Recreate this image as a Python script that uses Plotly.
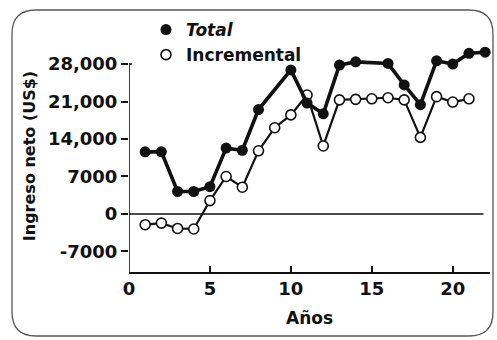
import plotly.graph_objects as go

# ---- data ----
total_years = [1, 2, 3, 4, 5, 6, 7, 8, 10, 11, 12, 13, 14, 16, 17, 18, 19, 20, 21, 22]
total_values = [11600, 11600, 4200, 4200, 5100, 12300, 11900, 19500, 26900, 20700,
                18700, 27800, 28400, 28100, 24100, 20400, 28600, 28000, 30000, 30200]

incr_years = list(range(1, 22))
incr_values = [-2000, -1700, -2700, -2800, 2500, 7000, 5000, 11800, 16100, 18500,
               22200, 12700, 21300, 21400, 21500, 21700, 21300, 14300, 21900, 20900, 21500]

y_tickvals = [-7000, 0, 7000, 14000, 21000, 28000]
y_ticktext = ["-7000", "0", "7000", "14,000", "21,000", "28,000"]
x_tickvals = [0, 5, 10, 15, 20]
x_ticktext = ["0", "5", "10", "15", "20"]

FONT = "DejaVu Sans"
INK = "#111111"
Y_MIN, Y_MAX = -10830, 32480
X_MIN, X_MAX = 0, 22.3

fig = go.Figure()

fig.add_trace(go.Scatter(
    x=incr_years, y=incr_values, mode="lines+markers", showlegend=False,
    line=dict(color=INK, width=2.2),
    marker=dict(symbol="circle", size=10, color="white", line=dict(color=INK, width=1.6)),
    cliponaxis=False,
))
fig.add_trace(go.Scatter(
    x=total_years, y=total_values, mode="lines+markers", showlegend=False,
    line=dict(color=INK, width=3.6),
    marker=dict(symbol="circle", size=11, color=INK),
    cliponaxis=False,
))
# legend entries (markers only)
fig.add_trace(go.Scatter(x=[None], y=[None], mode="markers", name="<i>Total</i>",
                         marker=dict(symbol="circle", size=11, color=INK)))
fig.add_trace(go.Scatter(x=[None], y=[None], mode="markers", name="Incremental",
                         marker=dict(symbol="circle", size=10, color="white",
                                     line=dict(color=INK, width=1.6))))

# plot area: left 129, right 490, top 40, bottom 272 (px)
L, R, T, B = 129, 490, 40, 272
W, H = 497, 340
pw, ph = R - L, B - T

def px(xp):
    return (xp - L) / pw

def py(yp):
    return (B - yp) / ph

shapes = []
# zero line
shapes.append(dict(type="line", xref="x", yref="y", x0=0, x1=21.9, y0=0, y1=0,
                   line=dict(color=INK, width=1.5), layer="below"))
# y-axis line up to 28,000
shapes.append(dict(type="line", xref="x", yref="y", x0=0, x1=0, y0=Y_MIN, y1=28000,
                   line=dict(color=INK, width=1.6)))
shapes.append(dict(type="line", xref="x", yref="y", x0=0, x1=0.18, y0=28000, y1=28000,
                   line=dict(color=INK, width=1.6)))

# rounded frame
fl, fr, ft, fb = 12, 493, 10, 336
r = 24
path = (
    f"M {px(fl + r)} {py(ft)} L {px(fr - r)} {py(ft)} "
    f"Q {px(fr)} {py(ft)} {px(fr)} {py(ft + r)} "
    f"L {px(fr)} {py(fb - r)} Q {px(fr)} {py(fb)} {px(fr - r)} {py(fb)} "
    f"L {px(fl + r)} {py(fb)} Q {px(fl)} {py(fb)} {px(fl)} {py(fb - r)} "
    f"L {px(fl)} {py(ft + r)} Q {px(fl)} {py(ft)} {px(fl + r)} {py(ft)} Z"
)
shapes.append(dict(type="path", xref="paper", yref="paper", path=path,
                   line=dict(color="#555555", width=1.3)))

fig.update_layout(
    width=W, height=H,
    margin=dict(l=L, r=W - R, t=T, b=H - B, pad=0),
    paper_bgcolor="white", plot_bgcolor="white",
    font=dict(family=FONT, color=INK, size=18),
    shapes=shapes,
    showlegend=True,
    legend=dict(x=px(146), y=py(12), xanchor="left", yanchor="top",
                bgcolor="rgba(0,0,0,0)", font=dict(family=FONT, size=17, color=INK, weight="bold"),
                itemwidth=30, tracegroupgap=0),
    xaxis=dict(range=[X_MIN, X_MAX], showgrid=False, zeroline=False,
               showline=True, linecolor=INK, linewidth=1.6,
               ticks="inside", ticklen=6, tickwidth=1.6, tickcolor=INK,
               tickvals=x_tickvals, ticktext=x_ticktext,
               tickfont=dict(family=FONT, size=18, color=INK, weight="bold"),
               title=dict(text="Años", font=dict(family=FONT, size=17, color=INK, weight="bold"),
                          standoff=14)),
    yaxis=dict(range=[Y_MIN, Y_MAX], showgrid=False, zeroline=False, showline=False,
               ticks="outside", ticklen=7, tickwidth=1.6, tickcolor=INK,
               tickvals=y_tickvals, ticktext=y_ticktext,
               tickfont=dict(family=FONT, size=18, color=INK, weight="bold"),
               title=dict(text="Ingreso neto (US$)",
                          font=dict(family=FONT, size=16, color=INK, weight="bold"),
                          standoff=8)),
)

fig.write_html("out.html",
               config={"displayModeBar": False},
               post_script="document.body.style.margin='0';document.body.style.overflow='hidden';")
